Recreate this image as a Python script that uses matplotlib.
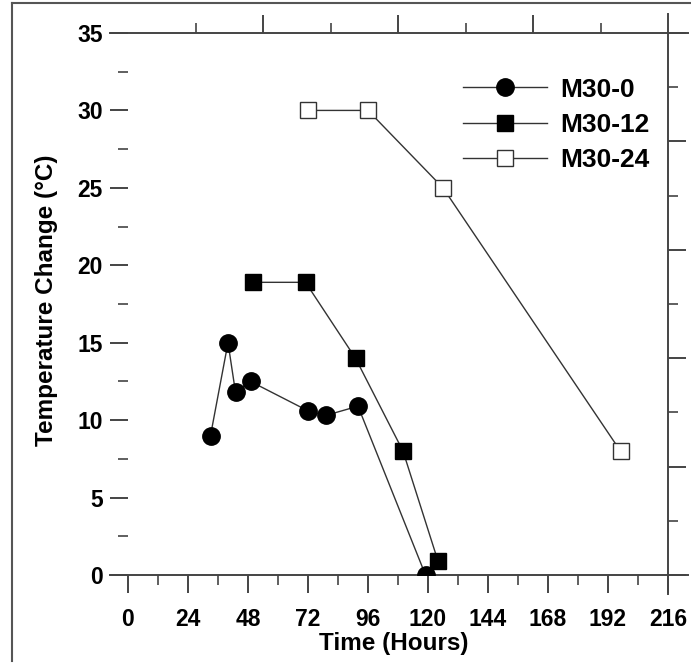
import matplotlib
matplotlib.use("Agg")
import matplotlib.pyplot as plt
from matplotlib.lines import Line2D
from matplotlib.ticker import MultipleLocator

plt.rcParams["font.family"] = ["Liberation Sans", "DejaVu Sans"]
plt.rcParams["font.weight"] = "bold"

# data
t_m0 = [33, 40, 43, 49, 72, 79, 92, 119]
dT_m0 = [9.0, 15.0, 11.8, 12.5, 10.6, 10.3, 10.9, 0.0]
t_m12 = [50, 71, 91, 110, 124]
dT_m12 = [18.9, 18.9, 14.0, 8.0, 0.9]
t_m24 = [72, 96, 126, 197]
dT_m24 = [30.0, 30.0, 25.0, 8.0]

x_ticks = [0, 24, 48, 72, 96, 120, 144, 168, 192, 216]
y_ticks = [0, 5, 10, 15, 20, 25, 30, 35]

AX = "#444444"
LN = "#333333"

W, H = 691, 663
fig = plt.figure(figsize=(W / 100, H / 100), dpi=100)
ax = fig.add_axes([110 / W, 88 / H, 578 / W, 542 / H])

ax.plot(t_m0, dT_m0, "-o", color=LN, lw=1.0, mfc="black", mec="black", ms=12.5, label="M30-0", zorder=3)
ax.plot(t_m12, dT_m12, "-s", color=LN, lw=1.0, mfc="black", mec="black", ms=12, label="M30-12", zorder=3)
ax.plot(t_m24, dT_m24, "-s", color=LN, lw=1.0, mfc="white", mec="#333333", mew=1.0, ms=12, label="M30-24", zorder=3)

ax.set_xlim(-7.2, 224)
ax.set_ylim(0, 35)

# left axis: ticks only, anchored at x = 0
ax.spines["left"].set_position(("data", 0))
ax.spines["left"].set_color("none")
ax.spines["right"].set_position(("data", 216))
for s in ("top", "bottom", "right"):
    ax.spines[s].set_color(AX)
    ax.spines[s].set_linewidth(1.4)

ax.set_xticks(x_ticks)
ax.xaxis.set_minor_locator(MultipleLocator(12))
ax.set_yticks(y_ticks)
ax.yaxis.set_minor_locator(MultipleLocator(2.5))
ax.tick_params(axis="x", which="major", direction="out", length=13, width=1.4, color=AX,
               labelsize=16.5, pad=10.5)
ax.tick_params(axis="x", which="minor", direction="out", length=7, width=1.2, color=AX)
ax.tick_params(axis="y", which="major", direction="out", length=13, width=1.4, color=AX,
               labelsize=16.5, pad=5)
ax.tick_params(axis="y", which="minor", direction="out", length=7, width=1.2, color=AX)
ax.xaxis.get_major_ticks()[0].tick1line.set_visible(False)
ax.xaxis.get_major_ticks()[-1].tick1line.set_visible(False)
for lab in ax.get_xticklabels() + ax.get_yticklabels():
    lab.set_fontweight("bold")

# right axis ticks (no labels)
axr = ax.twinx()
axr.set_ylim(0, 35)
axr.set_yticks([0, 7, 14, 21, 28, 35])
axr.yaxis.set_minor_locator(MultipleLocator(3.5))
axr.tick_params(axis="y", which="major", direction="out", length=13, width=1.4, color=AX,
                labelright=False)
axr.tick_params(axis="y", which="minor", direction="out", length=7, width=1.2, color=AX)
for s in axr.spines.values():
    s.set_visible(False)
axr.spines["right"].set_position(("data", 216))

# top axis ticks (no labels)
axt = ax.twiny()
axt.set_xlim(-7.2, 224)
axt.set_xticks([54, 108, 162])
axt.set_xticks([27, 81, 135, 189], minor=True)
axt.tick_params(axis="x", which="major", direction="out", length=13, width=1.4, color=AX,
                labeltop=False)
axt.tick_params(axis="x", which="minor", direction="out", length=7, width=1.2, color=AX)
for s in axt.spines.values():
    s.set_visible(False)

# right spine extension above top and below bottom
ax.plot([216, 216], [35, 36.2], color=AX, lw=1.4, clip_on=False)
ax.plot([216, 216], [0, -1.2], color=AX, lw=1.4, clip_on=False)

ax.set_xlabel("Time (Hours)", fontsize=17.5, fontweight="bold")
ax.set_ylabel("Temperature Change (\u00b0C)", fontsize=17.5, fontweight="bold")
ax.xaxis.set_label_coords(0.491, -0.106)
ax.yaxis.set_label_coords(-0.09, 0.506)

leg = ax.legend(loc="upper right", bbox_to_anchor=(0.952, 0.937), frameon=False,
                fontsize=19, handlelength=3.2, handletextpad=0.5, labelspacing=0.42,
                borderaxespad=0)
for t in leg.get_texts():
    t.set_fontweight("bold")

# figure frame on the left and top
fig.add_artist(Line2D([12 / W, 12 / W], [1 - 3 / H, 1 - 661 / H], color="#555555", lw=1.5,
                      transform=fig.transFigure))
fig.add_artist(Line2D([12 / W, 1.0], [1 - 3 / H, 1 - 3 / H], color="#555555", lw=1.5,
                      transform=fig.transFigure))

fig.savefig("out.png", dpi=100, facecolor="white")
